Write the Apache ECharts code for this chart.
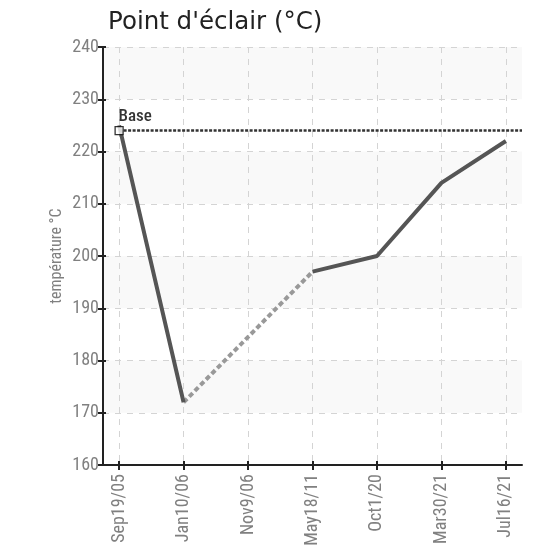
<!DOCTYPE html>
<html><head><meta charset="utf-8">
<script src="https://cdn.jsdelivr.net/npm/echarts@6/dist/echarts.min.js"></script>
<style>html,body{margin:0;padding:0;background:#fff}#c{width:548px;height:549px}</style>
</head><body><div id="c"></div>
<script>
const categories = ['Sep19/05','Jan10/06','Nov9/06','May18/11','Oct1/20','Mar30/21','Jul16/21'];
const values = [225, 172, null, 197, 200, 214, 222];
const baseValue = 224;
const baseLabel = 'Base';
const titleText = "Point d'éclair (°C)";
const yName = 'température °C';
const yMin = 160, yMax = 240, yStep = 10;

const idx = categories.map((c, i) => i);
const solid = values.map((v, i) => [i, v]);
const bridges = [];
for (let i = 0; i < values.length; i++) {
  if (values[i] == null) {
    let a = i - 1, b = i + 1;
    while (a >= 0 && values[a] == null) a--;
    while (b < values.length && values[b] == null) b++;
    if (a >= 0 && b < values.length) bridges.push([[a, values[a]], [b, values[b]]]);
  }
}
const pad = 0.25;
const xMin = -pad, xMax = categories.length - 1 + pad;
const narrow = "'Liberation Sans Narrow','Roboto Condensed','DejaVu Sans Condensed',sans-serif";

const series = [{
  type: 'line', data: solid, showSymbol: false, symbol: 'none',
  lineStyle: { color: '#555', width: 4 }, z: 3,
  markLine: {
    silent: true, symbol: ['none', 'none'],
    lineStyle: { color: '#333', width: 2.5, type: [3, 1.5] },
    label: { show: false },
    data: [[{ coord: [0, baseValue] }, { coord: [xMax, baseValue] }]]
  }
}];
bridges.forEach(seg => series.push({
  type: 'line', data: seg, showSymbol: false, symbol: 'none',
  lineStyle: { color: '#999', width: 4, type: [5, 3] }, z: 2
}));
series.push({
  type: 'scatter', data: [[0, baseValue]], symbol: 'rect', symbolSize: 8, z: 5,
  itemStyle: { color: '#fff', borderColor: '#000', borderWidth: 1.3 },
  label: { show: true, formatter: baseLabel, position: [4, -18], color: '#000',
    fontFamily: narrow, fontSize: 17, fontWeight: 500 }
});

const tickStyle = { color: '#222', width: 2 };
const chart = echarts.init(document.getElementById('c'));
chart.setOption({
  animation: false,
  title: { text: titleText, left: 103, top: 5,
    textStyle: { fontFamily: 'DejaVu Sans', fontSize: 24.5, fontWeight: 'normal', color: '#222' } },
  grid: { left: 103, right: 26, top: 47, bottom: 84 },
  xAxis: [{
    type: 'value', min: xMin, max: xMax,
    axisLine: { show: true, onZero: false, lineStyle: { color: '#222', width: 2 } },
    axisTick: { show: true, customValues: idx, length: 5, lineStyle: tickStyle },
    axisLabel: { customValues: idx, rotate: 90, formatter: v => categories[Math.round(v)],
      color: '#808080', fontFamily: narrow, fontSize: 18, margin: 9 },
    splitLine: { show: true, lineStyle: { color: '#d4d4d4', type: [6, 6], width: 1 } }
  }, {
    type: 'value', min: xMin, max: xMax, position: 'bottom',
    axisLine: { show: false, onZero: false },
    axisTick: { show: true, inside: true, customValues: idx, length: 4, lineStyle: tickStyle },
    axisLabel: { show: false }, splitLine: { show: false }
  }],
  yAxis: [{
    type: 'value', min: yMin, max: yMax, interval: yStep,
    name: yName, nameLocation: 'middle', nameGap: 38, nameRotate: 90, nameMoveOverlap: false,
    nameTextStyle: { color: '#808080', fontFamily: narrow, fontSize: 16 },
    axisLine: { show: true, onZero: false, lineStyle: { color: '#222', width: 2 } },
    axisTick: { show: true, length: 5, lineStyle: tickStyle },
    axisLabel: { color: '#808080', fontFamily: narrow, fontSize: 18, margin: 4 },
    splitLine: { show: true, lineStyle: { color: '#d4d4d4', type: [6, 6], width: 1 } },
    splitArea: { show: true, areaStyle: { color: ['rgba(255,255,255,0)', '#f9f9f9'] } }
  }, {
    type: 'value', min: yMin, max: yMax, interval: yStep, position: 'left',
    axisLine: { show: false, onZero: false },
    axisTick: { show: true, inside: true, length: 3, lineStyle: tickStyle },
    axisLabel: { show: false }, splitLine: { show: false }
  }],
  series: series
});
</script></body></html>
